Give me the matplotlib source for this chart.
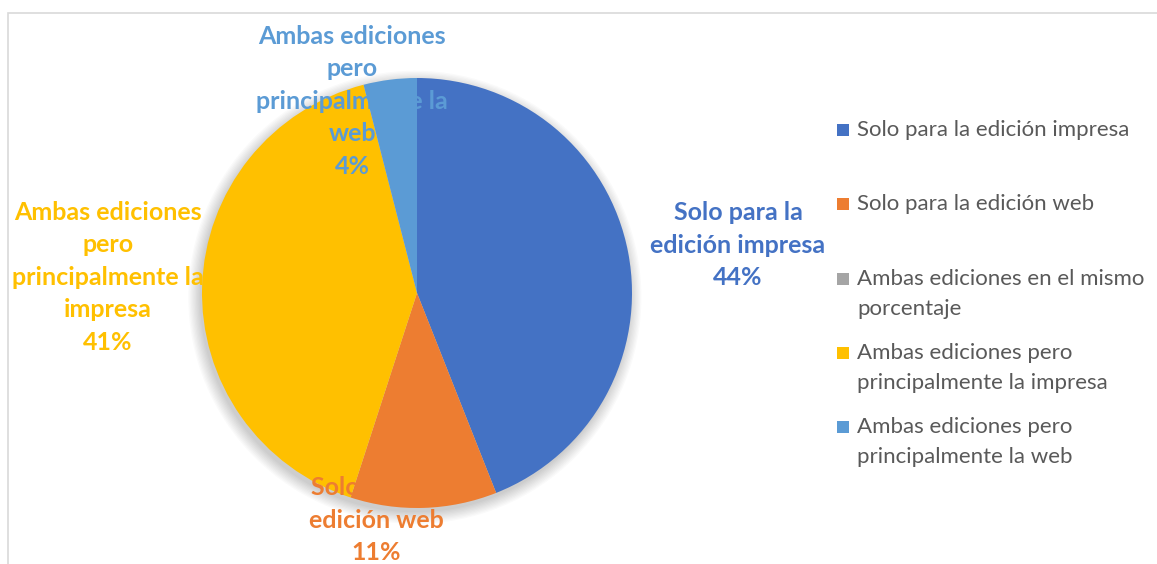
import matplotlib
matplotlib.use("Agg")
import matplotlib.pyplot as plt
from matplotlib.patches import Circle, Rectangle

plt.rcParams['font.family'] = ['Lato', 'DejaVu Sans']

# respuestas: para qué edición se compra / se lee
categorias = [
    "Solo para la edición impresa",
    "Solo para la edición web",
    "Ambas ediciones en el mismo porcentaje",
    "Ambas ediciones pero principalmente la impresa",
    "Ambas ediciones pero principalmente la web",
]
porcentajes = [44, 11, 0, 41, 4]
colores = ["#4472C4", "#ED7D31", "#A5A5A5", "#FFC000", "#5B9BD5"]

# texto de las etiquetas de datos (partido en líneas como en Excel)
etiquetas = [
    "Solo para la\nedición impresa",
    "Solo para la\nedición web",
    None,
    "Ambas ediciones\npero\nprincipalmente la\nimpresa",
    "Ambas ediciones\npero\nprincipalmente la\nweb",
]
# leyenda: líneas de cada entrada
leyenda = [
    "Solo para la edición impresa",
    "Solo para la edición web",
    "Ambas ediciones en el mismo\nporcentaje",
    "Ambas ediciones pero\nprincipalmente la impresa",
    "Ambas ediciones pero\nprincipalmente la web",
]

W, H = 1157, 564
fig = plt.figure(figsize=(W / 100, H / 100), dpi=100)

# marco del área del gráfico
fig.patches.append(Rectangle((8 / W, -0.05), 1.2, (H - 13) / H + 0.05,
                             transform=fig.transFigure, fill=False,
                             edgecolor="#D9D9D9", linewidth=1.2))

cx, cy, r = 417, 293, 215
ax = fig.add_axes([(cx - r) / W, (H - cy - r) / H, 2 * r / W, 2 * r / H])

# sombra suave alrededor del pastel
for k in range(10):
    ax.add_patch(Circle((-0.01, -0.02), 1 + 0.006 * k, color="black",
                        alpha=0.018, lw=0, zorder=0, clip_on=False))

wedges, _ = ax.pie(porcentajes, colors=colores, startangle=90,
                   counterclock=False, radius=1,
                   wedgeprops=dict(linewidth=0, zorder=1))
ax.set_xlim(-1, 1)
ax.set_ylim(-1, 1)
ax.set_aspect("equal")
ax.axis("off")

# posiciones de las etiquetas de datos (en radios)
pos_etiquetas = [(1.493, 0.223), (-0.191, -1.056), None,
                 (-1.437, 0.074), (-0.302, 0.893)]
for txt, p, c, v in zip(etiquetas, pos_etiquetas, colores, porcentajes):
    if txt is None:
        continue
    ax.text(p[0], p[1], f"{txt}\n{v}%", color=c, fontsize=18,
            fontweight="bold", ha="center", va="center",
            linespacing=1.5, clip_on=False, zorder=5)

# leyenda a la derecha
y0, paso = 130, 74.3
for i, (lab, c) in enumerate(zip(leyenda, colores)):
    y = y0 + i * paso
    fig.patches.append(Rectangle((837 / W, (H - y - 6) / H), 12 / W, 12 / H,
                                 transform=fig.transFigure, color=c, lw=0))
    n = lab.count("\n")
    fig.text(857 / W, (H - y - n * 15) / H, lab, color="#595959",
             fontsize=16, ha="left", va="center", linespacing=1.62)

fig.savefig("out.png", dpi=100, facecolor="white")
